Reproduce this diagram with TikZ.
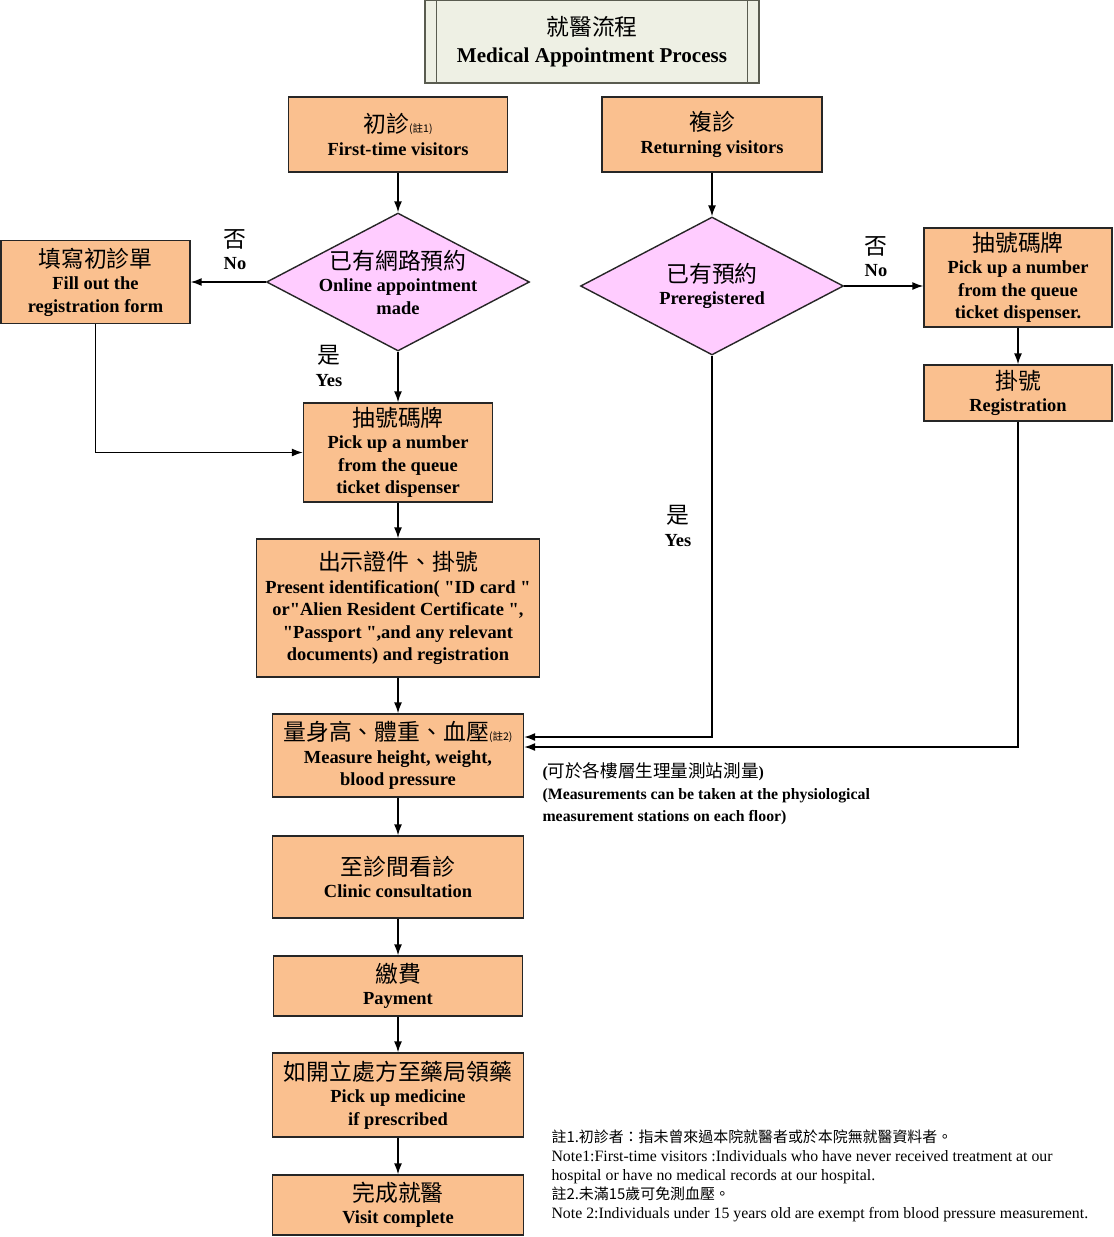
\documentclass[tikz,border=0pt]{standalone}
\usepackage{fontspec}
\setmainfont{Liberation Serif}[Ligatures=TeXOff]
\newfontfamily\cjk{Noto Sans CJK TC}
\usetikzlibrary{shapes, arrows.meta, positioning}

\definecolor{boxorange}{RGB}{250,192,143}
\definecolor{diapink}{RGB}{255,204,255}
\definecolor{titlegray}{RGB}{238,240,228}
\definecolor{titleline}{RGB}{90,92,80}

\newcommand{\zh}[1]{{\cjk\mdseries\fontsize{13}{15}\selectfont #1}}
\newcommand{\zhnote}[1]{{\cjk\mdseries\fontsize{6}{7}\selectfont #1}}

\begin{document}
\begin{tikzpicture}[
    x=0.02cm, y=-0.02cm,
    thick,
    >={Latex[length=2.2mm,width=1.6mm]}
  ]

  % Styles
  \tikzstyle{titlebox}=[draw=titleline, fill=titlegray, minimum width=6.68cm, minimum height=1.66cm, align=center, font=\bfseries\fontsize{12}{15}\selectfont]
  \tikzstyle{process}=[draw=black!85, fill=boxorange, align=center, inner sep=2pt, font=\bfseries\fontsize{10.5}{12.8}\selectfont]
  \tikzstyle{decision}=[draw=black!85, fill=diapink, shape=diamond, minimum width=5.26cm, minimum height=2.76cm, inner sep=0pt]
  \tikzstyle{answer}=[align=center, font=\bfseries\fontsize{10.5}{12.8}\selectfont]

  \useasboundingbox (0,0) rectangle (1114,1237);

  % Title
  \node[titlebox] (title) at (592,41.5) {\zh{就醫流程}\\Medical Appointment Process};
  \draw[titleline] ([xshift=0.24cm]title.north west) -- ([xshift=0.24cm]title.south west);
  \draw[titleline] ([xshift=-0.24cm]title.north east) -- ([xshift=-0.24cm]title.south east);

  % Visitors
  \node[process, minimum width=4.38cm, minimum height=1.5cm] (first) at (398,134.5) {\zh{初診}\zhnote{(註1)}\\First-time visitors};
  \node[process, minimum width=4.4cm, minimum height=1.5cm] (return) at (712,134.5) {\zh{複診}\\Returning visitors};

  % Questions
  \node[decision, label={[answer]center:{\zh{已有網路預約}\\Online appointment\\made}}] (online) at (398,282) {};
  \node[decision, label={[answer]center:{\zh{已有預約}\\Preregistered}}] (prereg) at (712,286) {};

  % Left branch
  \node[process, minimum width=3.78cm, minimum height=1.66cm] (form) at (95.5,282) {\zh{填寫初診單}\\Fill out the\\registration form};
  \node[process, minimum width=3.78cm, minimum height=1.98cm] (ticket) at (398,452.5) {\zh{抽號碼牌}\\Pick up a number\\from the queue\\ticket dispenser};
  \node[process, minimum width=5.66cm, minimum height=2.76cm] (identify) at (398,608) {\zh{出示證件、掛號}\\Present identification( "ID card "\\or"Alien Resident Certificate ",\\"Passport ",and any relevant\\documents) and registration};

  % Right branch
  \node[process, minimum width=3.76cm, minimum height=1.98cm] (rticket) at (1018,277.5) {\zh{抽號碼牌}\\Pick up a number\\from the queue\\ticket dispenser.};
  \node[process, minimum width=3.76cm, minimum height=1.12cm] (rregister) at (1018,393) {\zh{掛號}\\Registration};

  % Main column
  \node[process, minimum width=5.02cm, minimum height=1.66cm] (measure) at (398,755.5) {\zh{量身高、體重、血壓}\zhnote{(註2)}\\Measure height, weight,\\blood pressure};
  \node[process, minimum width=5.02cm, minimum height=1.64cm] (clinic) at (398,877) {\zh{至診間看診}\\Clinic consultation};
  \node[process, minimum width=4.98cm, minimum height=1.2cm] (payment) at (398,986) {\zh{繳費}\\Payment};
  \node[process, minimum width=5.02cm, minimum height=1.68cm] (medicine) at (398,1095) {\zh{如開立處方至藥局領藥}\\Pick up medicine\\if prescribed};
  \node[process, minimum width=5.02cm, minimum height=1.2cm] (complete) at (398,1205) {\zh{完成就醫}\\Visit complete};

  % Yes / No
  \node[answer] (no1) at (235,249.5) {\zh{否}\\No};
  \node[answer] (yes1) at (329,366) {\zh{是}\\Yes};
  \node[answer] (no2) at (876,256.5) {\zh{否}\\No};
  \node[answer] (yes2) at (678,526) {\zh{是}\\Yes};

  % Remarks
  \node[anchor=north west, align=left, font=\bfseries\fontsize{9}{12.5}\selectfont] (where) at (536,756) {({\cjk\mdseries\fontsize{10}{12}\selectfont 可於各樓層生理量測站測量})\\(Measurements can be taken at the physiological\\measurement stations on each floor)};
  \node[anchor=north west, align=left, font=\fontsize{9}{10.8}\selectfont] (notes) at (545,1123) {{\cjk\fontsize{8.5}{10.8}\selectfont 註1.初診者：指未曾來過本院就醫者或於本院無就醫資料者。}\\Note1:First-time visitors :Individuals who have never received treatment at our\\hospital or have no medical records at our hospital.\\{\cjk\fontsize{8.5}{10.8}\selectfont 註2.未滿15歲可免測血壓。}\\Note 2:Individuals under 15 years old are exempt from blood pressure measurement.};

  % Arrows
  \draw[->] (first) -- (online);
  \draw[->] (return) -- (prereg);
  \draw[->] (online) -- (form);
  \draw[->] (online) -- (ticket);
  \draw[->] (form.south) |- (ticket.west);
  \draw[->] (ticket) -- (identify);
  \draw[->] (identify) -- (measure);
  \draw[->] (prereg.east) -- (prereg.east -| rticket.west);
  \draw[->] (rticket) -- (rregister);
  \draw[->] (prereg.south) |- ([yshift=0.37cm]measure.east);
  \draw[->] (rregister.south) |- ([yshift=0.17cm]measure.east);
  \draw[->] (measure) -- (clinic);
  \draw[->] (clinic) -- (payment);
  \draw[->] (payment) -- (medicine);
  \draw[->] (medicine) -- (complete);

\end{tikzpicture}
\end{document}
